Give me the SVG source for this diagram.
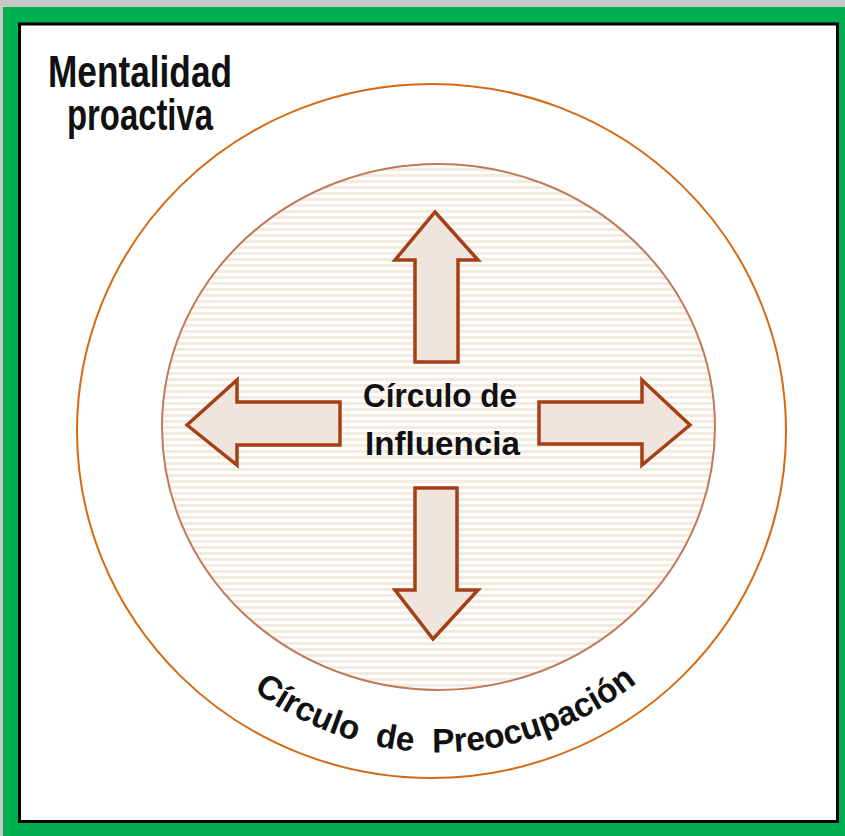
<svg xmlns="http://www.w3.org/2000/svg" width="845" height="836" viewBox="0 0 845 836">
  <style>
    .lbl { font-family: "Liberation Sans Narrow", "Liberation Sans", Arial, sans-serif; font-weight: bold; fill: #111; }
    .arrow { fill: #f0e5dc; stroke: #a53f16; stroke-width: 3.5; stroke-linejoin: miter; }
  </style>
  <defs>
    <pattern id="stripes" patternUnits="userSpaceOnUse" width="6" height="6">
      <rect width="6" height="6" fill="#ffffff"/>
      <rect width="6" height="3" fill="#f4ebe0"/>
    </pattern>
    <path id="arcPath" d="M169,596 A313,313 0 0 0 711,596"/>
  </defs>

  <rect x="0" y="0" width="845" height="836" fill="#c8c8c8"/>
  <rect x="3" y="7" width="842" height="829" fill="#00b050"/>
  <rect x="19.5" y="24" width="818" height="797.5" fill="#ffffff" stroke="#000" stroke-width="3"/>

  <g id="outer-circle">
    <ellipse cx="431.5" cy="431" rx="354.5" ry="347" fill="none" stroke="#d66a12" stroke-width="2"/>
    <text class="lbl" font-size="34" word-spacing="10">
      <textPath href="#arcPath" startOffset="51%" text-anchor="middle" textLength="413" lengthAdjust="spacingAndGlyphs">Círculo de Preocupación</textPath>
    </text>
  </g>

  <g id="mentalidad">
    <text class="lbl" x="48" y="87" font-size="44" textLength="184" lengthAdjust="spacingAndGlyphs">Mentalidad</text>
    <text class="lbl" x="67" y="130" font-size="44" textLength="146" lengthAdjust="spacingAndGlyphs">proactiva</text>
  </g>

  <g id="inner-circle">
    <ellipse cx="438.5" cy="427" rx="276.5" ry="263" fill="url(#stripes)" stroke="#c07a5a" stroke-width="2"/>
  </g>

  <g id="connectors">
    <path class="arrow" d="M435,212 L478,260 L458,260 L458,362 L415,362 L415,260 L395,260 Z"/>
    <path class="arrow" d="M433,639 L478,590 L457,590 L457,488 L415,488 L415,590 L395,590 Z"/>
    <path class="arrow" d="M187,425 L237,380 L237,402 L340,402 L340,445 L237,445 L237,465 Z"/>
    <path class="arrow" d="M690,425 L642,380 L642,402 L539,402 L539,444 L642,444 L642,465 Z"/>
  </g>

  <g id="influencia">
    <text class="lbl" x="363" y="407" font-size="33" textLength="154" lengthAdjust="spacingAndGlyphs">Círculo de</text>
    <text class="lbl" x="365" y="455" font-size="33" textLength="155" lengthAdjust="spacingAndGlyphs">Influencia</text>
  </g>
</svg>
